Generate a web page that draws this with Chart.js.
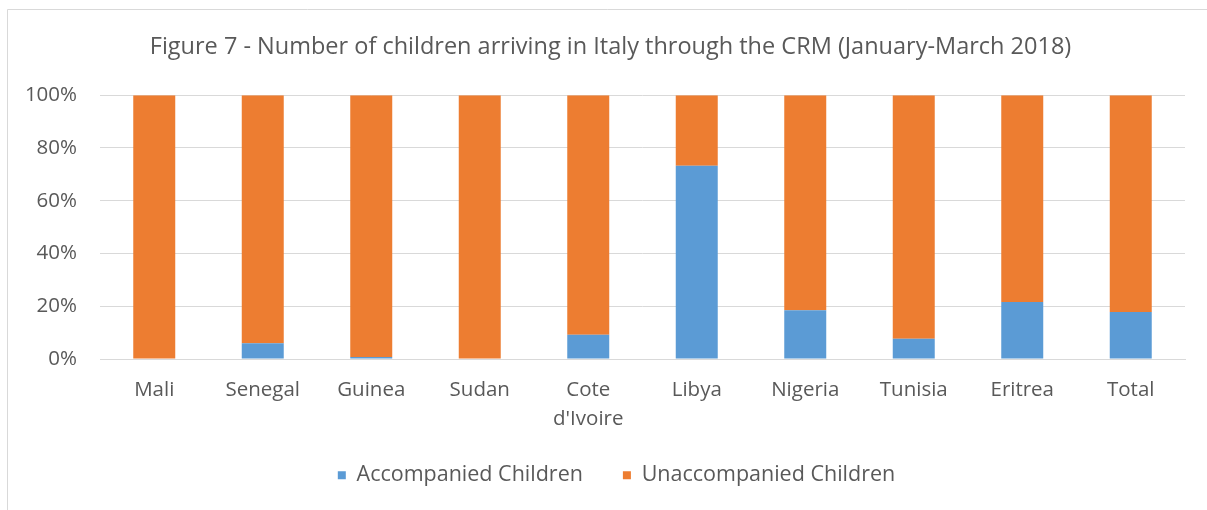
<!DOCTYPE html>
<html>
<head>
<meta charset="utf-8">
<script src="https://cdn.jsdelivr.net/npm/chart.js@4/dist/chart.umd.min.js"></script>
<style>
  html, body { margin: 0; padding: 0; background: #fff; }
  #wrap { position: relative; width: 1207px; height: 510px; }
</style>
</head>
<body>
<div id="wrap"><canvas id="c" width="1207" height="510"></canvas></div>
<script>
const titleText = 'Figure 7 - Number of children arriving in Italy through the CRM (January-March 2018)';
const categories = ['Mali', 'Senegal', 'Guinea', 'Sudan', ['Cote', "d'Ivoire"], 'Libya', 'Nigeria', 'Tunisia', 'Eritrea', 'Total'];
const accompanied = [0, 6.0, 0.8, 0, 9.2, 73.3, 18.5, 7.7, 21.6, 17.8];
const unaccompanied = [100, 94.0, 99.2, 100, 90.8, 26.7, 81.5, 92.3, 78.4, 82.2];
const yTicks = [0, 20, 40, 60, 80, 100];

const textColor = '#595959';
const gridColor = '#d9d9d9';
const FONT = "'Open Sans', sans-serif";

const framePlugin = {
  id: 'frame',
  afterLayout(chart) {
    if (chart.titleBlock) { chart.titleBlock.left += 14; chart.titleBlock.right += 14; }
    const lg = chart.legend;
    if (lg) { lg.left += 20; lg.right += 20; lg.top -= 14; lg.bottom -= 14; }
  },
  beforeDraw(chart) {
    const ctx = chart.ctx;
    ctx.save();
    ctx.fillStyle = '#fff';
    ctx.fillRect(0, 0, chart.width, chart.height);
    ctx.strokeStyle = gridColor;
    ctx.lineWidth = 1;
    ctx.beginPath();
    ctx.moveTo(7.5, 510);
    ctx.lineTo(7.5, 9.5);
    ctx.lineTo(1207, 9.5);
    ctx.stroke();
    ctx.restore();
  }
};

new Chart(document.getElementById('c'), {
  type: 'bar',
  data: {
    labels: categories,
    datasets: [
      { label: 'Accompanied Children', data: accompanied, backgroundColor: '#5B9BD5', barPercentage: 0.387, categoryPercentage: 1.0 },
      { label: 'Unaccompanied Children', data: unaccompanied, backgroundColor: '#ED7D31', barPercentage: 0.387, categoryPercentage: 1.0 }
    ]
  },
  options: {
    responsive: false,
    animation: false,
    devicePixelRatio: 1,
    layout: { padding: { left: 8, right: 22, top: 9, bottom: 0 } },
    plugins: {
      title: {
        display: true,
        text: titleText,
        color: textColor,
        font: { family: FONT, size: 23.5, weight: 'normal' },
        padding: { top: 24, bottom: 34 }
      },
      legend: {
        position: 'bottom',
        labels: {
          color: textColor,
          font: { family: FONT, size: 21.5 },
          boxWidth: 8,
          boxHeight: 8,
          padding: 40
        }
      },
      tooltip: { enabled: false }
    },
    scales: {
      x: {
        stacked: true,
        grid: { display: false, drawTicks: false },
        border: { display: true, color: gridColor },
        ticks: { color: textColor, font: { family: FONT, size: 20.5, lineHeight: 1.415 }, padding: 17, maxRotation: 0, autoSkip: false },
        afterFit(scale) { scale.height = 79.5; }
      },
      y: {
        stacked: true,
        min: 0,
        max: 100,
        afterBuildTicks(scale) { scale.ticks = yTicks.map(v => ({ value: v })); },
        grid: { color: gridColor, drawTicks: false },
        border: { display: false },
        ticks: { color: textColor, font: { family: FONT, size: 20.5 }, padding: 23, callback: v => v + '%' },
        afterFit(scale) { scale.width = 92; }
      }
    }
  },
  plugins: [framePlugin]
});
</script>
</body>
</html>
